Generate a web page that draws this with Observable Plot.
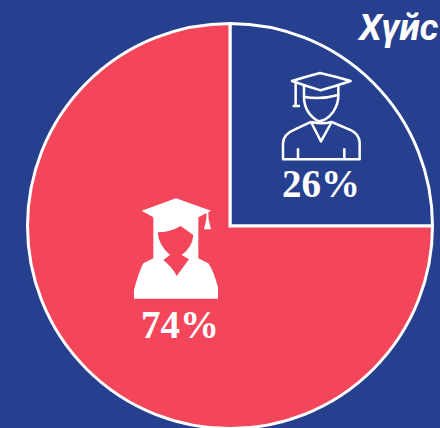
<!DOCTYPE html>
<html><head><meta charset="utf-8">
<script src="https://cdn.jsdelivr.net/npm/d3@7"></script>
<script src="https://cdn.jsdelivr.net/npm/@observablehq/plot@0.6"></script>
<style>html,body{margin:0;padding:0;background:#26408F;overflow:hidden}svg{display:block}</style>
</head><body><div id="c"></div>
<script>
const categories = ["Эрэгтэй", "Эмэгтэй"];
const sliceValues = [25, 75];
const shareLabels = ["26%", "74%"];
const sliceColors = ["#26408F", "#F3465B"];
const titleText = "Хүйс";

const W = 440, H = 428, cx = 230, cy = 226, R = 202.5;
const pie = d3.pie().sort(null)(sliceValues);
const arc = d3.arc().innerRadius(0).outerRadius(R);

function svgEl(tag, attrs, parent){
  const e = document.createElementNS("http://www.w3.org/2000/svg", tag);
  for (const k in attrs) e.setAttribute(k, attrs[k]);
  parent.appendChild(e); return e;
}
function pieMark(index, scales){
  const g = document.createElementNS("http://www.w3.org/2000/svg", "g");
  g.setAttribute("transform", `translate(${scales.x(cx)},${scales.y(cy)})`);
  pie.forEach((p,i)=> svgEl("path",{d:arc(p),fill:sliceColors[i],stroke:"#fff","stroke-width":3,"stroke-linejoin":"miter"},g));
  return g;
}
function manIcon(){
  const g = document.createElementNS("http://www.w3.org/2000/svg", "g");
  g.setAttribute("transform","translate(230,0) scale(0.3333)");
  const s = {fill:"none",stroke:"#fff","stroke-width":7.5,"stroke-linejoin":"round"};
  ["M186,243 Q228,230 270,219 Q318,230 362,243 Q318,258 272,271 Q228,258 186,243Z",
   "M222,258 L222,290 Q270,300 325,285 L325,258",
   "M222,290 Q222,338 265,364 Q290,362 310,335 Q326,310 325,285",
   "M197,250 L197,318 M188,318 L210,318",
   "M159,478 L389,478 L389,428 Q388,398 350,385 L305,366 L273,424 L243,366 L195,388 Q160,402 159,430 Z",
   "M204,445 V478 M343,445 V478",
   "M245,366 Q275,374 305,366"
  ].forEach(d=>svgEl("path",{...s,d},g));
  return g;
}
function womanIcon(){
  const g = document.createElementNS("http://www.w3.org/2000/svg", "g");
  g.setAttribute("transform","translate(110,180) scale(0.3333)");
  [["#fff","M95,92 L198,55 L303,92 L265,112 Q200,135 130,112 Z"],
   ["#fff","M130,105 L130,235 L100,250 Q85,280 72,330 V356 H324 V322 Q310,270 295,250 L265,235 V105 Z"],
   ["#F3465B","M143,157 Q180,157 212,138 L250,165 Q248,200 215,225 L237,238 L200,288 Q190,265 160,240 L180,225 Q145,195 143,157Z"],
   ["#fff","M290,95 L295,95 L296,118 L303,148 H282 L289,118 Z"]
  ].forEach(([fill,d])=>svgEl("path",{fill,d},g));
  return g;
}

const labelX = [320.5, 179.5];
const labelY = [184, 325];

const plot = Plot.plot({
  width: W, height: H, margin: 0,
  style: {background: "#26408F"},
  x: {domain: [0, W], range: [0, W], axis: null},
  y: {domain: [0, H], range: [0, H], axis: null},
  marks: [
    pieMark,
    manIcon,
    womanIcon,
    Plot.text(shareLabels, {
      x: (d,i)=>labelX[i], y: (d,i)=>labelY[i], text: d=>d,
      fill: "#fff", fontSize: 39, fontWeight: 700, fontFamily: "Liberation Serif"
    }),
    Plot.text([titleText], {
      x: [440], y: [28], text: d=>d, textAnchor: "end", dx: -2,
      fill: "#fff", fontSize: 37, fontWeight: 700, fontStyle: "italic", fontFamily: "Roboto"
    })
  ]
});
document.getElementById("c").appendChild(plot);
</script></body></html>
